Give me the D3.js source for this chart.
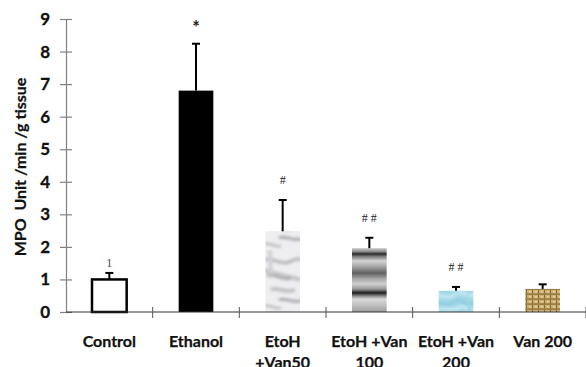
<!DOCTYPE html>
<html>
<head>
<meta charset="utf-8">
<script src="https://cdn.jsdelivr.net/npm/d3@7/dist/d3.min.js"></script>
<style>
html,body{margin:0;padding:0;background:#fff;}
svg{display:block;}
</style>
</head>
<body>
<svg id="chart" width="586" height="367"></svg>
<script>
const categories = [["Control"], ["Ethanol"], ["EtoH", "+Van50"], ["EtoH +Van", "100"], ["EtoH +Van", "200"], ["Van 200"]];
const means = [1.0, 6.8, 2.48, 1.96, 0.65, 0.71];
const errors = [0.2, 1.44, 0.96, 0.32, 0.12, 0.14];
const marks = ["1", "*", "#", "# #", "# #", ""];
const yTicks = [0, 1, 2, 3, 4, 5, 6, 7, 8, 9];

const svg = d3.select("#chart");
const keys = categories.map(c => c.join(" "));
const x = d3.scaleBand().domain(keys).range([66, 586]).paddingInner(0.6).paddingOuter(0.3);
const y = d3.scaleLinear().domain([0, 9]).range([312, 19]);

const defs = svg.append("defs");
defs.append("filter").attr("id", "soft").attr("x", "-20%").attr("y", "-20%").attr("width", "140%").attr("height", "140%")
  .append("feGaussianBlur").attr("stdDeviation", 1.6);
// Marble pattern
const marble = defs.append("pattern").attr("id", "marble").attr("patternUnits", "userSpaceOnUse")
  .attr("width", 36).attr("height", 62).attr("x", 265).attr("y", 250);
marble.append("rect").attr("width", 36).attr("height", 62).attr("fill", "#eeeef0");
const mg = marble.append("g").attr("filter", "url(#soft)");
[["M0,10 C8,6 14,16 24,12 S32,8 36,10", "#b4b4b8", 3],
 ["M-2,20 L36,30", "#c4c4c8", 4],
 ["M2,26 C10,22 16,32 26,28", "#a4a4a8", 2.5],
 ["M6,40 C12,36 18,44 30,40", "#bcbcc0", 3.5],
 ["M14,50 C20,47 26,53 36,51", "#9c9ca0", 2.5],
 ["M0,56 C6,54 10,60 16,58", "#b0b0b4", 2],
 ["M4,0 C8,8 2,16 8,24", "#d0d0d4", 4]].forEach(p => {
  mg.append("path").attr("d", p[0]).attr("stroke", p[1]).attr("stroke-width", p[2]).attr("fill", "none");
});
// Banded gradient
const bands = defs.append("linearGradient").attr("id", "bands").attr("x1", 0).attr("y1", 0).attr("x2", 0).attr("y2", 1);
[[0, "#c8c8c8"], [0.05, "#909090"], [0.09, "#2a2a2a"], [0.13, "#7a7a7a"], [0.2, "#d4d4d4"], [0.28, "#aaaaaa"],
 [0.39, "#606060"], [0.48, "#a8a8a8"], [0.56, "#cfcfcf"], [0.64, "#9a9a9a"], [0.7, "#1e1e1e"], [0.75, "#8a8a8a"],
 [0.8, "#dadada"], [0.9, "#bdbdbd"], [1, "#9c9c9c"]].forEach(s => {
  bands.append("stop").attr("offset", s[0]).attr("stop-color", s[1]);
});
// Water pattern
const water = defs.append("pattern").attr("id", "water").attr("patternUnits", "userSpaceOnUse")
  .attr("width", 36).attr("height", 22).attr("x", 0).attr("y", 290);
water.append("rect").attr("width", 36).attr("height", 22).attr("fill", "#a2d8e6");
const wg = water.append("g").attr("filter", "url(#soft)");
[["M0,6 C8,2 12,10 20,6 S30,2 36,5", "#d0eff6", 2.5], ["M0,14 C6,10 14,18 22,12 S32,16 36,13", "#86c8da", 2],
 ["M4,20 C10,16 18,22 26,18 S34,20 36,19", "#d8f2f8", 2]].forEach(p => {
  wg.append("path").attr("d", p[0]).attr("stroke", p[1]).attr("stroke-width", p[2]).attr("fill", "none");
});
// Woven pattern
const woven = defs.append("pattern").attr("id", "woven").attr("patternUnits", "userSpaceOnUse")
  .attr("width", 6).attr("height", 5);
woven.append("rect").attr("width", 6).attr("height", 5).attr("fill", "#cfb273");
woven.append("rect").attr("x", 0).attr("y", 3.5).attr("width", 6).attr("height", 1.1).attr("fill", "#7a5e2c");
woven.append("rect").attr("x", 4).attr("y", 0).attr("width", 1).attr("height", 3.5).attr("fill", "#86693a");
woven.append("rect").attr("x", 1).attr("y", 1).attr("width", 2).attr("height", 1.5).attr("fill", "#e6d199");

const fills = ["#ffffff", "#000000", "url(#marble)", "url(#bands)", "url(#water)", "url(#woven)"];

// Y axis
const yAxis = svg.append("g").attr("transform", "translate(66,0)")
  .call(d3.axisLeft(y).tickValues(yTicks).tickSize(6).tickPadding(10));
yAxis.select(".domain").attr("stroke", "#808080").attr("stroke-width", 1.2);
yAxis.selectAll(".tick line").attr("x1", 6).attr("x2", -6).attr("stroke", "#808080").attr("stroke-width", 1.2);
yAxis.selectAll(".tick text").attr("font-family", "Lato, sans-serif").attr("font-weight", "bold")
  .attr("font-size", 17).attr("fill", "#111").attr("stroke", "#111").attr("stroke-width", 0.3);

// Bars
const g = svg.append("g");
g.selectAll(".bar").data(means).join("rect")
  .attr("x", (d, i) => x(keys[i]))
  .attr("y", d => y(d))
  .attr("width", x.bandwidth())
  .attr("height", d => y(0) - y(d))
  .attr("fill", (d, i) => fills[i])
  .attr("stroke", (d, i) => i === 0 ? "#000" : "none")
  .attr("stroke-width", 2.5);

// Error bars
means.forEach((m, i) => {
  const cx = x(keys[i]) + x.bandwidth() / 2;
  g.append("line").attr("x1", cx).attr("x2", cx).attr("y1", y(m)).attr("y2", y(m + errors[i]))
    .attr("stroke", "#000").attr("stroke-width", 2);
  g.append("line").attr("x1", cx - 4).attr("x2", cx + 4).attr("y1", y(m + errors[i])).attr("y2", y(m + errors[i]))
    .attr("stroke", "#000").attr("stroke-width", 2);
});

// Significance marks
g.selectAll(".mark").data(marks).join("text")
  .attr("x", (d, i) => x(keys[i]) + x.bandwidth() / 2)
  .attr("y", (d, i) => y(means[i] + errors[i]) - (i === 1 ? 10 : i === 0 ? 6 : 16))
  .attr("text-anchor", "middle")
  .attr("font-family", (d, i) => i === 1 ? "Lato, sans-serif" : "'Liberation Serif', serif")
  .attr("font-weight", (d, i) => i === 1 ? "bold" : "normal")
  .attr("font-size", (d, i) => i === 1 ? 18 : i === 0 ? 13 : 12)
  .attr("fill", (d, i) => i === 0 ? "#555" : "#222")
  .text(d => d);

// X axis
const xa = svg.append("g");
xa.append("line").attr("x1", 66).attr("x2", 586).attr("y1", y(0)).attr("y2", y(0))
  .attr("stroke", "#333").attr("stroke-width", 1.2);
keys.forEach((k, i) => {
  const bx = x(k) + x.bandwidth() / 2 + x.step() / 2;
  xa.append("line").attr("x1", bx).attr("x2", bx).attr("y1", y(0) - 5).attr("y2", y(0) + 6)
    .attr("stroke", "#555").attr("stroke-width", 1);
});
categories.forEach((lines, i) => {
  const t = xa.append("text").attr("x", x(keys[i]) + x.bandwidth() / 2).attr("y", 347)
    .attr("text-anchor", "middle").attr("font-family", "Lato, sans-serif").attr("font-weight", "bold")
    .attr("font-size", 16).attr("fill", "#111").attr("stroke", "#111").attr("stroke-width", 0.25);
  lines.forEach((l, j) => {
    t.append("tspan").attr("x", x(keys[i]) + x.bandwidth() / 2).attr("dy", j === 0 ? 0 : 21).text(l);
  });
});

// Y label
svg.append("text").attr("transform", "translate(26,167) rotate(-90)")
  .attr("text-anchor", "middle").attr("font-family", "Lato, sans-serif").attr("font-weight", "bold")
  .attr("font-size", 16).attr("fill", "#111").attr("stroke", "#111").attr("stroke-width", 0.25)
  .attr("xml:space", "preserve").style("white-space", "pre")
  .text("MPO  Unit /min /g tissue");
</script>
</body>
</html>
